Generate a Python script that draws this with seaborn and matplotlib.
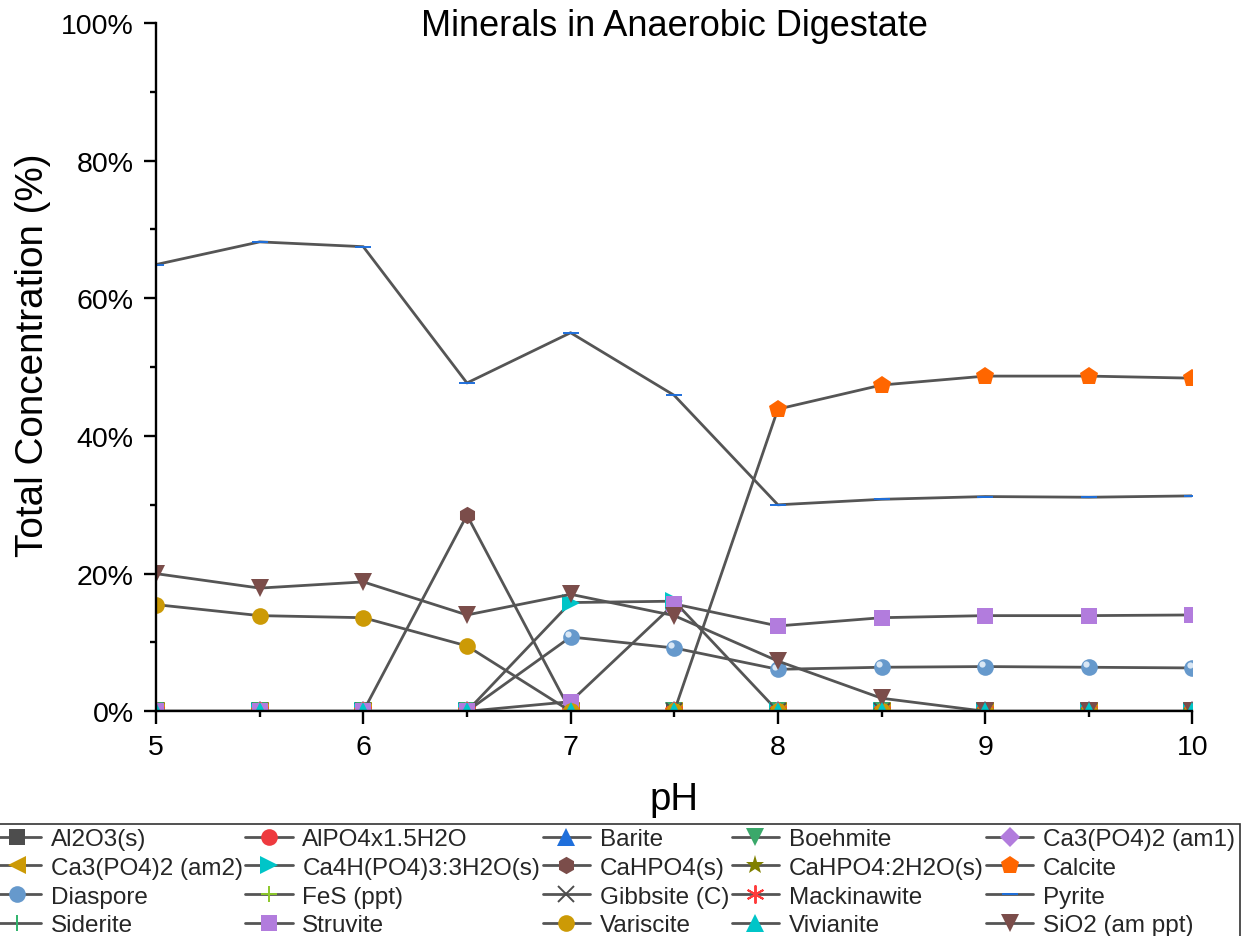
import matplotlib
matplotlib.use("Agg")
import matplotlib.pyplot as plt
import seaborn as sns
from matplotlib.ticker import MultipleLocator, FuncFormatter
from matplotlib.transforms import ScaledTranslation

sns.set_theme(style="white")
plt.rcParams["font.family"] = ["Liberation Sans", "DejaVu Sans"]

# ---- data: total concentration (%) of each mineral vs pH ----
ph = [5, 5.5, 6, 6.5, 7, 7.5, 8, 8.5, 9, 9.5, 10]

al2o3 = [0, 0, 0, 0, 0, 0, 0, 0, 0, 0, 0]
alpo4 = [0, 0, 0, 0, 0, 0, 0, 0, 0, 0, 0]
barite = [0, 0, 0, 0, 0, 0, 0, 0, 0, 0, 0]
boehmite = [0, 0, 0, 0, 0, 0, 0, 0, 0, 0, 0]
ca3po4_am1 = [0, 0, 0, 0, 0, 0, 0, 0, 0, 0, 0]
ca3po4_am2 = [0, 0, 0, 0, 0, 0, 0, 0, 0, 0, 0]
ca4h_po4 = [0, 0, 0, 0, 15.8, 16.0, 0, 0, 0, 0, 0]
cahpo4 = [0, 0, 0, 28.5, 0, 0, 0, 0, 0, 0, 0]
cahpo4_2h2o = [0, 0, 0, 0, 0, 0, 0, 0, 0, 0, 0]
calcite = [0, 0, 0, 0, 0, 0, 43.9, 47.4, 48.7, 48.7, 48.4]
diaspore = [0, 0, 0, 0, 10.8, 9.2, 6.1, 6.4, 6.5, 6.4, 6.3]
fes = [0, 0, 0, 0, 0, 0, 0, 0, 0, 0, 0]
gibbsite = [0, 0, 0, 0, 0, 0, 0, 0, 0, 0, 0]
mackinawite = [0, 0, 0, 0, 0, 0, 0, 0, 0, 0, 0]
pyrite = [64.9, 68.2, 67.5, 47.7, 55.0, 45.9, 30.0, 30.8, 31.2, 31.1, 31.3]
siderite = [0, 0, 0, 0, 0, 0, 0, 0, 0, 0, 0]
struvite = [0, 0, 0, 0, 1.4, 15.6, 12.4, 13.6, 13.9, 13.9, 14.0]
variscite = [15.5, 13.9, 13.6, 9.5, 0, 0, 0, 0, 0, 0, 0]
vivianite = [0, 0, 0, 0, 0, 0, 0, 0, 0, 0, 0]
sio2 = [20.0, 17.9, 18.8, 14.0, 17.0, 13.9, 7.3, 1.9, 0, 0, 0]

# (label, values, marker, colour, marker size, z-order)
series = [
    ("Al2O3(s)", al2o3, "s", "#4d4d4d", 11, 2.0),
    ("AlPO4x1.5H2O", alpo4, "o", "#ee3a3f", 12, 2.0),
    ("Barite", barite, "^", "#1f6fdb", 12.5, 2.0),
    ("Boehmite", boehmite, "v", "#3aa86a", 12.5, 2.0),
    ("Ca3(PO4)2 (am1)", ca3po4_am1, "D", "#b27cdd", 10, 2.0),
    ("Ca3(PO4)2 (am2)", ca3po4_am2, "<", "#cc9a06", 12.5, 2.0),
    ("Ca4H(PO4)3:3H2O(s)", ca4h_po4, ">", "#00c5c8", 13, 2.0),
    ("CaHPO4(s)", cahpo4, "h", "#7b4d4a", 12.5, 2.0),
    ("CaHPO4:2H2O(s)", cahpo4_2h2o, "*", "#808000", 14, 2.0),
    ("Calcite", calcite, "p", "#ff6600", 13.5, 2.0),
    ("Diaspore", diaspore, "o", "#6699cc", 12, 2.0),
    ("FeS (ppt)", fes, "+", "#8cc82a", 12, 2.0),
    ("Gibbsite (C)", gibbsite, "x", "#4d4d4d", 11, 2.0),
    ("Mackinawite", mackinawite, (6, 2, 0), "#ff3b3b", 13, 2.0),
    ("Pyrite", pyrite, "_", "#1f6fdb", 12, 2.0),
    ("Siderite", siderite, "|", "#2fb36b", 12, 2.0),
    ("Struvite", struvite, "s", "#b27cdd", 11, 2.0),
    ("Variscite", variscite, "o", "#cc9a06", 12, 2.0),
    ("Vivianite", vivianite, "^", "#00c5c8", 13, 2.2),
    ("SiO2 (am ppt)", sio2, "v", "#7b4d4a", 13.5, 2.1),
]

LINE = "#555555"
UNFILLED = {"+", "x", "|", "_", (6, 2, 0)}

fig = plt.figure(figsize=(12.44, 9.37), dpi=100)
ax = fig.add_axes([0.1254, 0.2398, 0.8332, 0.7346])

for label, vals, mk, col, ms, z in series:
    unfilled = mk in UNFILLED
    sns.lineplot(
        x=ph, y=vals, ax=ax, color=LINE, linewidth=2.0,
        marker=mk, markersize=ms,
        markerfacecolor="none" if unfilled else col,
        markeredgecolor=col,
        markeredgewidth=1.4 if unfilled else 0.0,
        label=label, estimator=None, sort=False, zorder=z,
    )
    if label == "Diaspore":
        # glossy highlight on the spheres
        shift = ax.transData + ScaledTranslation(-2 / 72, 2 / 72, fig.dpi_scale_trans)
        ax.plot(ph, vals, linestyle="none", marker="o", markersize=4.5,
                markerfacecolor="#e6f0fa", markeredgewidth=0, alpha=0.9,
                transform=shift)

if ax.get_legend() is not None:
    ax.get_legend().remove()

ax.set_xlim(5, 10)
ax.set_ylim(0, 100)

for side in ("top", "right"):
    ax.spines[side].set_visible(False)
for side in ("left", "bottom"):
    ax.spines[side].set_color("black")
    ax.spines[side].set_linewidth(1.7)

ax.xaxis.set_major_locator(MultipleLocator(1))
ax.xaxis.set_minor_locator(MultipleLocator(0.5))
ax.yaxis.set_major_locator(MultipleLocator(20))
ax.yaxis.set_minor_locator(MultipleLocator(10))
ax.yaxis.set_major_formatter(FuncFormatter(lambda v, p: f"{v:.0f}%"))
ax.tick_params(which="major", direction="out", length=9, width=1.7,
               color="black", labelsize=20.5, labelcolor="black", pad=7,
               bottom=True, left=True)
ax.tick_params(which="minor", direction="out", length=4.5, width=1.7,
               color="black", bottom=True, left=True)

ax.set_xlabel("pH", fontsize=27.5, color="black")
ax.xaxis.label.set_va("baseline")
ax.xaxis.set_label_coords(0.5, -(810 - 712.3) / 688.3)
ax.set_ylabel("Total Concentration (%)", fontsize=27.8, color="black")
ax.yaxis.label.set_va("center")
ax.yaxis.label.set_ha("center")
ax.yaxis.set_label_coords((33 - 156) / 1036.5, (712.3 - 355) / 688.3)

ax.text(0.5, (712.3 - 35.7) / 688.3, "Minerals in Anaerobic Digestate",
        transform=ax.transAxes, ha="center", va="baseline",
        fontsize=26, color="black")

# legend laid out row by row in five columns
handles, labels = ax.get_legend_handles_labels()
handles = [h for h, l in zip(handles, labels) if not l.startswith("_")]
labels = [l for l in labels if not l.startswith("_")]
nrow, ncol = 4, 5
order = [r * ncol + c for c in range(ncol) for r in range(nrow)]
leg = fig.legend([handles[i] for i in order], [labels[i] for i in order],
                 ncol=ncol, loc="upper right",
                 bbox_to_anchor=(1240 / 1244, 1 - 824.5 / 937),
                 fontsize=17.5, frameon=True, fancybox=False, framealpha=1,
                 edgecolor="#333333", borderaxespad=0, borderpad=0.2,
                 handlelength=1.95, handletextpad=0.4, columnspacing=0.1,
                 labelspacing=0.27)
leg.get_frame().set_linewidth(1.2)

fig.savefig("out.png", dpi=100)
